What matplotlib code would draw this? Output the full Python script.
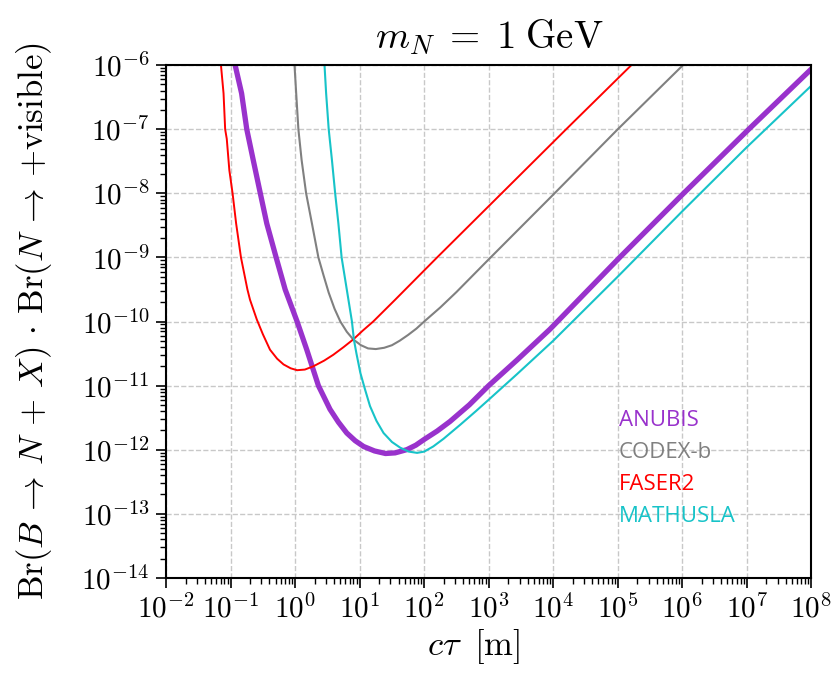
"""
HNL sensitivity curves: Br(B -> N + X) * Br(N -> visible) vs c*tau, m_N = 1 GeV.
"""

import numpy as np
import matplotlib
matplotlib.use("Agg")
import matplotlib.pyplot as plt
from matplotlib.ticker import LogLocator, FuncFormatter, NullFormatter

plt.rcParams["mathtext.fontset"] = "cm"
plt.rcParams["font.family"] = "serif"
plt.rcParams["font.serif"] = ["cmr10", "DejaVu Serif"]
plt.rcParams["axes.formatter.use_mathtext"] = True

# curves, as log10(c tau / m) and log10(Br)
anubis_logx = [-0.93, -0.83, -0.75, -0.65, -0.54, -0.44, -0.295, -0.155, 0.03,
               0.18, 0.36, 0.54, 0.67, 0.80, 0.93, 1.06, 1.23, 1.40, 1.55,
               1.73, 1.87, 2.0, 2.2, 2.4, 2.7, 3.0, 3.44, 3.95, 5.03, 6.02,
               7.03, 8.0]
anubis_logy = [-6.0, -6.44, -7.0, -7.48, -8.0, -8.47, -9.0, -9.5, -10.0,
               -10.44, -11.0, -11.37, -11.57, -11.74, -11.86, -11.95, -12.02,
               -12.06, -12.05, -12.0, -11.93, -11.84, -11.71, -11.56, -11.3,
               -11.0, -10.6, -10.12, -9.0, -8.0, -7.0, -6.06]

codex_logx = [-0.01, 0.016, 0.05, 0.10, 0.17, 0.26, 0.36, 0.44, 0.52, 0.61,
              0.70, 0.80, 0.90, 1.02, 1.13, 1.25, 1.38, 1.5, 1.62, 1.75,
              1.88, 2.0, 2.25, 2.5, 3.0, 4.0, 5.0, 6.01]
codex_logy = [-6.0, -6.44, -7.0, -7.48, -8.0, -8.47, -9.0, -9.28, -9.55, -9.8,
              -10.0, -10.16, -10.28, -10.37, -10.42, -10.43, -10.41, -10.37,
              -10.3, -10.21, -10.11, -10.0, -9.78, -9.54, -9.03, -8.02, -7.0,
              -6.0]

faser_logx = [-1.15, -1.11, -1.085, -1.06, -1.02, -0.97, -0.915, -0.84, -0.74,
              -0.70, -0.594, -0.5, -0.39, -0.28, -0.18, -0.07, 0.03, 0.15,
              0.28, 0.45, 0.59, 0.75, 0.90, 1.05, 1.21, 1.55, 2.2, 3.2, 4.2,
              5.21]
faser_logy = [-6.0, -6.44, -7.0, -7.15, -7.64, -8.0, -8.47, -9.0, -9.5,
              -9.66, -9.97, -10.2, -10.44, -10.58, -10.67, -10.73, -10.76,
              -10.75, -10.70, -10.61, -10.52, -10.40, -10.28, -10.14, -10.0,
              -9.66, -9.0, -8.0, -7.0, -6.0]

mathusla_logx = [0.455, 0.48, 0.52, 0.57, 0.62, 0.67, 0.72, 0.80, 0.88, 0.91,
                 0.95, 1.01, 1.08, 1.16, 1.26, 1.37, 1.5, 1.63, 1.76, 1.89,
                 2.0, 2.14, 2.3, 2.56, 2.8, 3.0, 3.44, 4.0, 5.0, 6.0, 7.0, 8.0]
mathusla_logy = [-6.0, -6.44, -7.0, -7.48, -8.0, -8.47, -9.0, -9.5, -10.0, -10.28,
                 -10.5, -10.80, -11.05, -11.32, -11.55, -11.74, -11.88, -11.97,
                 -12.03, -12.05, -12.03, -11.95, -11.83, -11.61, -11.4, -11.22,
                 -10.82, -10.3, -9.30, -8.28, -7.28, -6.32]

names = ["ANUBIS", "CODEX-b", "FASER2", "MATHUSLA"]
colors = ["#9932cc", "#808080", "#ff0000", "#17c3c8"]
widths = [3.8, 1.5, 1.4, 1.5]
label_logy = [-11.55, -12.05, -12.55, -13.05]

curves = [(anubis_logx, anubis_logy), (codex_logx, codex_logy),
          (faser_logx, faser_logy), (mathusla_logx, mathusla_logy)]

fig = plt.figure(figsize=(8.39, 6.79), dpi=100)
ax = fig.add_axes([0.198, 0.149, 0.769, 0.755])

for (lx, ly), c, w in zip(curves, colors, widths):
    ax.plot(10.0 ** np.array(lx), 10.0 ** np.array(ly), color=c, lw=w,
            solid_joinstyle="round")

for name, c, ly in zip(names, colors, label_logy):
    ax.text(1.05e5, 10.0 ** ly, name, color=c, fontsize=16, va="center",
            ha="left", family=["Open Sans", "DejaVu Sans"])

ax.set_xscale("log")
ax.set_yscale("log")
ax.set_xlim(1e-2, 1e8)
ax.set_ylim(1e-14, 1e-6)

ax.xaxis.set_major_locator(LogLocator(base=10, numticks=20))
ax.yaxis.set_major_locator(LogLocator(base=10, numticks=20))
ax.xaxis.set_minor_locator(LogLocator(base=10, subs=np.arange(2, 10), numticks=20))
ax.yaxis.set_minor_locator(LogLocator(base=10, subs=np.arange(2, 10), numticks=20))
pow_fmt = FuncFormatter(lambda v, p: rf"$10^{{{int(round(np.log10(v)))}}}$")
ax.xaxis.set_major_formatter(pow_fmt)
ax.yaxis.set_major_formatter(pow_fmt)
ax.xaxis.set_minor_formatter(NullFormatter())
ax.yaxis.set_minor_formatter(NullFormatter())

ax.tick_params(which="major", length=7, width=1.2, labelsize=21, pad=5,
               top=False, right=False)
ax.tick_params(which="minor", length=4, width=1.0, top=False, right=False)
for s in ax.spines.values():
    s.set_linewidth(1.5)

ax.grid(True, which="major", ls="--", color="#c8c8c8", lw=1.0)

ax.set_xlabel(r"$c\tau\;\;[\mathrm{m}]$", fontsize=25, labelpad=4)
ax.xaxis.set_label_coords(0.476, -0.095)
ax.set_ylabel(r"$\mathrm{Br}(B \,\to\, N \,+\, X) \,\cdot\, "
              r"\mathrm{Br}(N \,\to\, {+}\mathrm{visible})$",
              fontsize=25, labelpad=20)
ax.set_title(r"$m_N \;=\; 1\;\mathrm{GeV}$", fontsize=28, pad=12)

fig.savefig("out.png", dpi=100)
